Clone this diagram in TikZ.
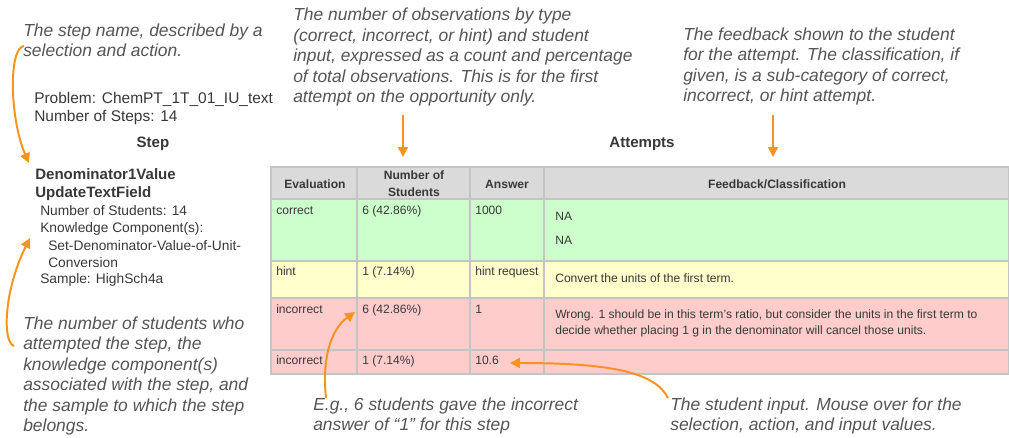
\documentclass[tikz,border=0pt]{standalone}
\usepackage{fontspec}
\setmainfont{Liberation Sans}
\usetikzlibrary{arrows.meta}
\definecolor{calloutorange}{HTML}{F7931E}
\definecolor{notegray}{HTML}{555555}
\definecolor{cellink}{HTML}{383838}
\definecolor{hdrfill}{HTML}{DADADA}
\definecolor{okfill}{HTML}{CCFFCC}
\definecolor{hintfill}{HTML}{FFFFCC}
\definecolor{badfill}{HTML}{FFCCCC}
\definecolor{gridline}{HTML}{C4C4C4}
% column and row edges of the attempts table (pixels)
\newcommand{\ColA}{271}
\newcommand{\ColB}{357}
\newcommand{\ColC}{470}
\newcommand{\ColD}{544}
\newcommand{\ColE}{1009}
\newcommand{\RowA}{167}
\newcommand{\RowB}{199}
\newcommand{\RowC}{261}
\newcommand{\RowD}{298}
\newcommand{\RowE}{350}
\newcommand{\RowF}{374}

\begin{document}
\begin{tikzpicture}[x=0.025cm,y=-0.025cm,
	note/.style={anchor=base west,inner sep=0,align=left,text=notegray,font=\itshape\fontsize{12.4}{14.6}\selectfont},
	info/.style={anchor=base west,inner sep=0,text=cellink,font=\fontsize{9.8}{12.5}\selectfont},
	infobig/.style={info,font=\fontsize{11}{12.5}\selectfont},
	infobold/.style={info,font=\bfseries\fontsize{10.7}{12.5}\selectfont},
	cell/.style={anchor=base west,inner sep=0,align=left,text=cellink,font=\fontsize{8.6}{12}\selectfont},
	head/.style={anchor=center,inner sep=0,align=center,text=cellink,font=\bfseries\fontsize{8.6}{12}\selectfont},
	callout/.style={draw=calloutorange,line width=1.4pt,-{Triangle[length=7pt,width=7pt]}}]
		\useasboundingbox (0,0) rectangle (1009,438);

		% Table background
		\fill[hdrfill] (\ColA,\RowA) rectangle (\ColE,\RowB);% Header
		\fill[okfill] (\ColA,\RowB) rectangle (\ColE,\RowC);% Correct
		\fill[hintfill] (\ColA,\RowC) rectangle (\ColE,\RowD);% Hint
		\fill[badfill] (\ColA,\RowD) rectangle (\ColE,\RowF);% Incorrect
		\draw[gridline,line width=0.8pt] (\ColA,\RowA) rectangle (\ColE,\RowF);
		\foreach \y in {\RowB,\RowC,\RowD,\RowE}
			\draw[gridline,line width=0.8pt] (\ColA,\y) -- (\ColE,\y);
		\foreach \x in {\ColB,\ColC,\ColD}
			\draw[gridline,line width=0.8pt] (\x,\RowA) -- (\x,\RowF);

		% Header row
		\node[head] (hEval) at (315,184) {Evaluation};
		\node[head] (hStud) at (414,184) {Number of\\Students};
		\node[head] (hAns) at (507,184) {Answer};
		\node[head] (hFeed) at (777,184) {Feedback/Classification};

		% Correct row
		\node[cell] (evalA) at (276,215) {correct};
		\node[cell] (studA) at (362,215) {6 (42.86\%)};
		\node[cell] (ansA) at (475,215) {1000};
		\node[cell] (feedA) at (555,221) {NA};
		\node[cell] (feedAb) at (555,245) {NA};
		% Hint row
		\node[cell] (evalB) at (276,276) {hint};
		\node[cell] (studB) at (362,276) {1 (7.14\%)};
		\node[cell] (ansB) at (475,276) {hint request};
		\node[cell] (feedB) at (555,283) {Convert the units of the first term.};
		% Incorrect rows
		\node[cell] (evalC) at (276,314) {incorrect};
		\node[cell] (studC) at (362,314) {6 (42.86\%)};
		\node[cell] (ansC) at (475,314) {1};
		\node[cell] (feedC) at (555,335) {Wrong. 1 should be in this term's ratio, but consider the units in the first term to\\decide whether placing 1 g in the denominator will cancel those units.};
		\node[cell] (evalD) at (276,365) {incorrect};
		\node[cell] (studD) at (362,365) {1 (7.14\%)};
		\node[cell] (ansD) at (475,365) {10.6};

		% Step summary
		\node[infobig] (problem) at (34,104) {Problem: ChemPT\_1T\_01\_IU\_text};
		\node[infobig] (nsteps) at (34,122) {Number of Steps: 14};
		\node[infobold,anchor=base] (stepHd) at (153,148) {Step};
		\node[infobold,anchor=base] (attHd) at (642,148) {Attempts};
		\node[infobold] (stepSel) at (35,180) {Denominator1Value};
		\node[infobold] (stepAct) at (35,198) {UpdateTextField};
		\node[info] (nstud) at (40,216) {Number of Students: 14};
		\node[info] (kcHd) at (40,233) {Knowledge Component(s):};
		\node[info] (kcA) at (48,251) {Set-Denominator-Value-of-Unit-};
		\node[info] (kcB) at (48,268) {Conversion};
		\node[info] (sample) at (40,284) {Sample: HighSch4a};

		% Annotations (anchored at the baseline of their last line)
		\node[note] (noteStep) at (23,57) {The step name, described by a\\selection and action.};
		\node[note] (noteObs) at (293,103) {The number of observations by type\\(correct, incorrect, or hint) and student\\input, expressed as a count and percentage\\of total observations. This is for the first\\attempt on the opportunity only.};
		\node[note] (noteFeed) at (683,102) {The feedback shown to the student\\for the attempt. The classification, if\\given, is a sub-category of correct,\\incorrect, or hint attempt.};
		\node[note] (noteKC) at (23,432) {The number of students who\\attempted the step, the\\knowledge component(s)\\associated with the step, and\\the sample to which the step\\belongs.};
		\node[note] (noteEg) at (313,431) {E.g., 6 students gave the incorrect\\answer of “1” for this step};
		\node[note] (noteInput) at (670,431) {The student input. Mouse over for the\\selection, action, and input values.};

		% Callout arrows
		\coordinate (obsTail) at (403,115);
		\coordinate (obsHead) at (403,157);
		\coordinate (feedTail) at (773,115);
		\coordinate (feedHead) at (773,157);
		\coordinate (stepHead) at (29,163);
		\coordinate (kcTail) at (14,346);
		\coordinate (kcHead) at (30,238);
		\coordinate (egTail) at (326,398);
		\coordinate (egHead) at (355,312);
		\coordinate (inTail) at (668,398);
		\coordinate (inHead) at (510,363);

		\draw[callout] (24,46) .. controls (8,48) and (10,120) .. (stepHead);
		\draw[callout] (kcTail) .. controls (2,342) and (4,290) .. (kcHead);
		\draw[callout] (obsTail) -- (obsHead);
		\draw[callout] (feedTail) -- (feedHead);
		\draw[callout] (egTail) .. controls (322,360) and (330,330) .. (egHead);
		\draw[callout] (inTail) .. controls (655,372) and (610,363) .. (inHead);
	\end{tikzpicture}
\end{document}
